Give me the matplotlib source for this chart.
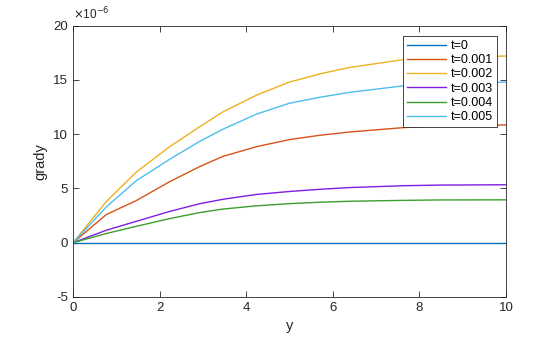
import matplotlib
matplotlib.use("Agg")
import matplotlib.pyplot as plt
import numpy as np

plt.rcParams['font.family'] = ['Liberation Sans', 'DejaVu Sans']

y_pos = [0, 0.77, 1.46, 2.23, 2.93, 3.46, 4.24, 5.0, 5.7, 6.39, 7.62, 8.45, 10]
labels = ['t=0', 't=0.001', 't=0.002', 't=0.003', 't=0.004', 't=0.005']
g_t0 = [0, 0, 0, 0, 0, 0, 0, 0, 0, 0, 0, 0, 0]
g_t1 = [0, 2.6, 3.88, 5.62, 7.02, 7.95, 8.85, 9.5, 9.9, 10.2, 10.6, 10.76, 10.85]
g_t2 = [0, 3.8, 6.5, 8.84, 10.7, 12.05, 13.6, 14.8, 15.55, 16.15, 16.86, 17.05, 17.2]
g_t3 = [0, 1.15, 1.97, 2.88, 3.6, 4.0, 4.45, 4.72, 4.92, 5.08, 5.25, 5.31, 5.34]
g_t4 = [0, 0.85, 1.51, 2.22, 2.78, 3.1, 3.4, 3.6, 3.73, 3.82, 3.9, 3.94, 3.95]
g_t5 = [0, 3.3, 5.71, 7.68, 9.35, 10.45, 11.85, 12.85, 13.4, 13.85, 14.45, 14.65, 14.8]
colors = ['#0072BD', '#D95319', '#EDB120', '#7E1FE0', '#3AA02C', '#4DBEEE']

fig = plt.figure(figsize=(5.6, 3.37), dpi=100)
ax = fig.add_axes([0.1304, 0.1187, 0.7732, 0.8053])
scale = 1e-6
for data, lab, c in zip([g_t0, g_t1, g_t2, g_t3, g_t4, g_t5], labels, colors):
    ax.plot(y_pos, np.array(data) * scale, color=c, lw=1.0, label=lab)

ax.set_xlim(0, 10)
ax.set_ylim(-5e-6, 20e-6)
ax.set_xticks([0, 2, 4, 6, 8, 10])
yt = [-5, 0, 5, 10, 15, 20]
ax.set_yticks([v * scale for v in yt])
ax.set_yticklabels([str(v) for v in yt])
ax.tick_params(direction='in', top=True, right=True, labelsize=9.5, length=4, width=0.6, colors='#262626', labelcolor='#262626')
for s in ax.spines.values():
    s.set_linewidth(0.6)
    s.set_color('#262626')
ax.set_xlabel('y', fontsize=10.5, color='#262626')
ax.set_ylabel('grady', fontsize=10.5, color='#262626')
ax.text(0.0, 1.012, r'$\times$10$^{-6}$', transform=ax.transAxes, fontsize=8.5, color='#262626', ha='left', va='bottom')

leg = ax.legend(loc='upper right', bbox_to_anchor=(0.979, 0.961), fontsize=9, frameon=True, fancybox=False,
                handlelength=3.1, handletextpad=0.4, borderpad=0.3, labelspacing=0.18, borderaxespad=0.0)
leg.get_frame().set_edgecolor('#262626')
leg.get_frame().set_linewidth(0.6)
leg.get_frame().set_alpha(1)

fig.savefig('out.png', dpi=100)
